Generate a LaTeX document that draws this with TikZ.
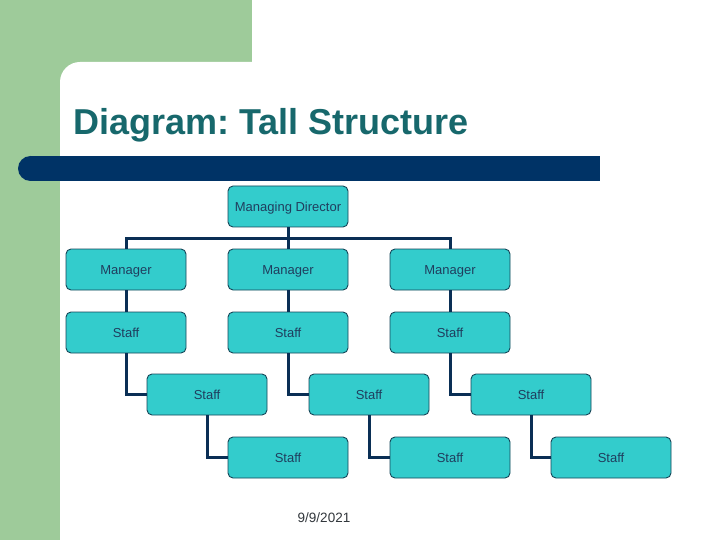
\documentclass[tikz,border=0pt]{standalone}
\usepackage{fontspec}
\setmainfont{Liberation Sans}
\frenchspacing
\definecolor{sidegreen}{RGB}{158,203,154}
\definecolor{barblue}{RGB}{0,51,102}
\definecolor{titleteal}{RGB}{23,104,108}
\definecolor{boxfill}{RGB}{51,204,204}
\definecolor{boxline}{RGB}{22,70,88}
\definecolor{boxtext}{RGB}{32,62,94}
\definecolor{connblue}{RGB}{10,47,85}
\definecolor{datetext}{RGB}{50,55,60}
\tikzset{
  orgbox/.style={draw=boxline, fill=boxfill, line width=0.9pt, rounded corners=5pt,
    minimum width=120pt, minimum height=41pt, inner sep=0pt,
    text height=9.3pt, text depth=0pt,
    font=\fontsize{13}{15}\selectfont, text=boxtext},
  conn/.style={draw=connblue, line width=3pt}
}
\begin{document}
\begin{tikzpicture}[x=1pt,y=-1pt]
\useasboundingbox (0,0) rectangle (720,540);
\clip (0,0) rectangle (720,540);
% background
\fill[white] (0,0) rectangle (720,540);
\fill[sidegreen] (0,0) rectangle (252,120);
\fill[sidegreen] (0,0) rectangle (60,540);
\fill[white, rounded corners=20pt] (60,600) -- (60,62) -- (800,62) -- (800,600) -- cycle;
% title
\node[anchor=base west, inner sep=0pt, text=titleteal,
  font=\fontsize{36}{40}\selectfont\bfseries] (title) at (73,135) {Diagram: Tall Structure};
% bar
\fill[barblue] (30.5,168.5) circle (12.5);
\fill[barblue] (30.5,156) rectangle (600,181);
% nodes
\node[orgbox] (md) at (288,206.5) {Managing Director};
\node[orgbox] (m1) at (126,269.5) {Manager};
\node[orgbox] (m2) at (288,269.5) {Manager};
\node[orgbox] (m3) at (450,269.5) {Manager};
\node[orgbox] (s1) at (126,332.5) {Staff};
\node[orgbox] (s2) at (288,332.5) {Staff};
\node[orgbox] (s3) at (450,332.5) {Staff};
\node[orgbox] (s4) at (207,394.5) {Staff};
\node[orgbox] (s5) at (369,394.5) {Staff};
\node[orgbox] (s6) at (531,394.5) {Staff};
\node[orgbox] (s7) at (288,457.5) {Staff};
\node[orgbox] (s8) at (450,457.5) {Staff};
\node[orgbox] (s9) at (611,457.5) {Staff};
% connectors
\coordinate (bus) at (288,238);
\draw[conn] (m1.north) |- (bus) -| (m3.north);
\draw[conn] (md.south) -- (m2.north);
\draw[conn] (m1.south) -- (s1.north);
\draw[conn] (m2.south) -- (s2.north);
\draw[conn] (m3.south) -- (s3.north);
\draw[conn] (s1.south) |- (s4.west);
\draw[conn] (s2.south) |- (s5.west);
\draw[conn] (s3.south) |- (s6.west);
\draw[conn] (s4.south) |- (s7.west);
\draw[conn] (s5.south) |- (s8.west);
\draw[conn] (s6.south) |- (s9.west);
% date
\node[inner sep=0pt, text=datetext, font=\fontsize{13.5}{15}\selectfont] (date) at (324,518) {9/9/2021};
\end{tikzpicture}
\end{document}
